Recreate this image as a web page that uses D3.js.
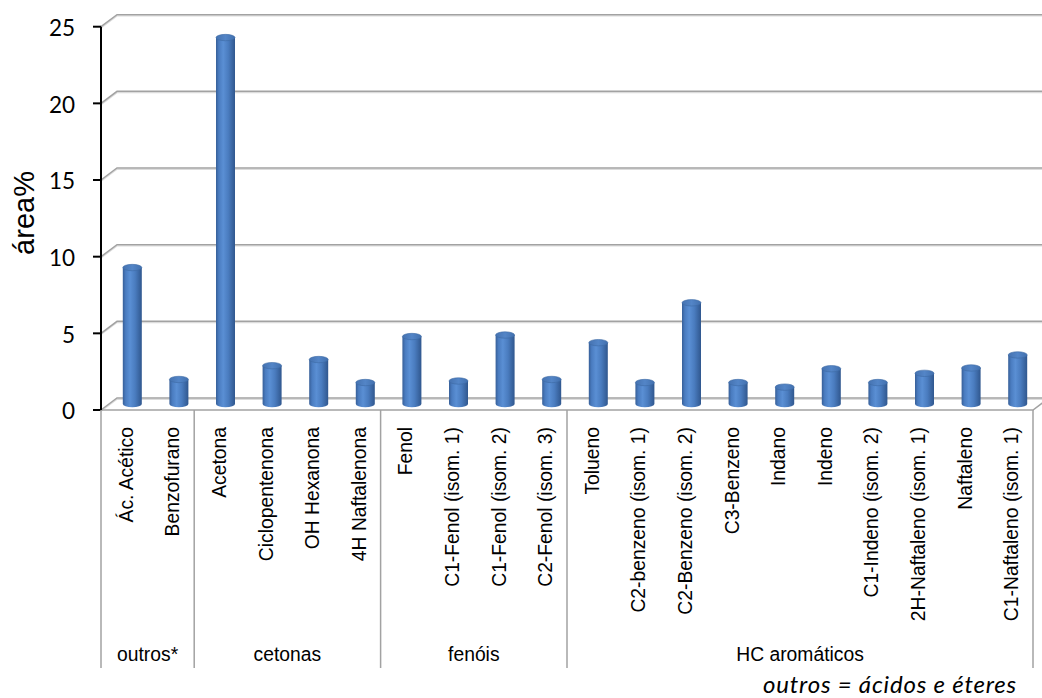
<!DOCTYPE html>
<html>
<head>
<meta charset="utf-8">
<script src="https://cdn.jsdelivr.net/npm/d3@7/dist/d3.min.js"></script>
<style>
  html, body { margin: 0; padding: 0; background: #fff; }
  svg { display: block; }
</style>
</head>
<body>
<svg id="chart" width="1042" height="698"></svg>
<script>
// Compound names along the category axis
const categories = [
  "Ác. Acético", "Benzofurano",
  "Acetona", "Ciclopentenona", "OH Hexanona", "4H Naftalenona",
  "Fenol", "C1-Fenol (isom. 1)", "C1-Fenol (isom. 2)", "C2-Fenol (isom. 3)",
  "Tolueno", "C2-benzeno (isom. 1)", "C2-Benzeno (isom. 2)", "C3-Benzeno",
  "Indano", "Indeno", "C1-Indeno (isom. 2)", "2H-Naftaleno (isom. 1)",
  "Naftaleno", "C1-Naftaleno (isom. 1)"
];
// Chemical class of each compound
const groupNames = ["outros*", "cetonas", "fenóis", "HC aromáticos"];
const groupSizes = [2, 4, 4, 10];
// Area percentage of each compound
const values = [
  8.9, 1.6,
  23.9, 2.5, 2.9, 1.4,
  4.4, 1.5, 4.5, 1.6,
  4.0, 1.4, 6.6, 1.4, 1.1, 2.3, 1.4, 2.0, 2.35, 3.2
];
const yTicks = [0, 5, 10, 15, 20, 25];
const yTitle = "área%";
const footnote = "outros = ácidos e éteres";

const svg = d3.select("#chart");

// Front plane of the 3-D plot box and its depth offset
const plotLeft = 101, plotRight = 1033, plotBottom = 410, plotTop = 26.7;
const depthX = 16, depthY = -12;
const labelBottom = 668;
const labelFont = "'Liberation Sans', Arial, sans-serif";
const narrow = 0.92; // condensed look of the axis lettering

const x = d3.scaleBand().domain(categories).range([plotLeft, plotRight]);
const y = d3.scaleLinear().domain([0, 25]).range([plotBottom, plotTop]);

const defs = svg.append("defs");
const grad = defs.append("linearGradient").attr("id", "cyl")
  .attr("x1", "0%").attr("x2", "100%").attr("y1", "0%").attr("y2", "0%");
[["0%", "#375f98"], ["15%", "#4a7cc0"], ["38%", "#5a8fd4"], ["65%", "#4a7cbf"], ["100%", "#30578e"]]
  .forEach(([o, c]) => grad.append("stop").attr("offset", o).attr("stop-color", c));
const topGrad = defs.append("linearGradient").attr("id", "cyltop")
  .attr("x1", "0%").attr("x2", "100%").attr("y1", "0%").attr("y2", "0%");
[["0%", "#4572b0"], ["50%", "#5385c7"], ["100%", "#4270ae"]]
  .forEach(([o, c]) => topGrad.append("stop").attr("offset", o).attr("stop-color", c));

// Back-wall gridlines with their side-wall diagonals
const grid = svg.append("g");
yTicks.forEach(t => {
  const yy = y(t);
  const pts = [[plotLeft, yy], [plotLeft + depthX, yy + depthY], [1050, yy + depthY]];
  grid.append("path")
    .attr("d", d3.line()(pts.map(p => [p[0], p[1] + 1.3])))
    .attr("fill", "none").attr("stroke", "#dcdcdc").attr("stroke-width", 1.2);
  grid.append("path")
    .attr("d", d3.line()(pts))
    .attr("fill", "none").attr("stroke", "#a2a2a2").attr("stroke-width", 1.5);
});

// Floor front edge and right edge
grid.append("path")
  .attr("d", d3.line()([[plotLeft, plotBottom], [plotRight, plotBottom], [plotRight + depthX, plotBottom + depthY]]))
  .attr("fill", "none").attr("stroke", "#a2a2a2").attr("stroke-width", 1.5);

// Cylinder bars, standing halfway into the depth of the box
const bw = 19, ry = 3.2;
const bars = svg.append("g");
categories.forEach((c, i) => {
  const cx = x(c) + x.bandwidth() / 2 + depthX / 2;
  const yb = y(0) + depthY / 2;
  const yt = y(values[i]) + depthY / 2;
  const g = bars.append("g");
  g.append("path")
    .attr("d", `M${cx - bw / 2},${yt} L${cx - bw / 2},${yb} A${bw / 2},${ry} 0 0 0 ${cx + bw / 2},${yb} L${cx + bw / 2},${yt} Z`)
    .attr("fill", "url(#cyl)");
  g.append("ellipse")
    .attr("cx", cx).attr("cy", yt).attr("rx", bw / 2).attr("ry", ry)
    .attr("fill", "url(#cyltop)").attr("stroke", "#3d69a4").attr("stroke-width", 0.6);
});

// Vertical value axis
const yAxis = svg.append("g");
yAxis.append("line")
  .attr("x1", plotLeft).attr("x2", plotLeft).attr("y1", y(25)).attr("y2", y(0))
  .attr("stroke", "#000").attr("stroke-width", 2);
yTicks.forEach(t => {
  yAxis.append("line")
    .attr("x1", plotLeft - 8).attr("x2", plotLeft).attr("y1", y(t)).attr("y2", y(t))
    .attr("stroke", "#000").attr("stroke-width", 2);
  yAxis.append("text")
    .attr("x", 75).attr("y", y(t)).attr("dy", "0.42em")
    .attr("text-anchor", "end")
    .style("font-family", "Lato, 'Open Sans', sans-serif").style("font-size", "22.5px")
    .attr("fill", "#000").text(t);
});
svg.append("text")
  .attr("transform", "translate(34,213) rotate(-90)")
  .attr("text-anchor", "middle")
  .style("font-family", labelFont).style("font-size", "29px")
  .attr("fill", "#000").text(yTitle);

// Category labels, rotated
const catLabels = svg.append("g")
  .style("font-family", labelFont).style("font-size", "21px");
categories.forEach(c => {
  const cx = x(c) + x.bandwidth() / 2 + 1;
  catLabels.append("text")
    .attr("transform", `translate(${cx},427) rotate(-90) scale(${narrow},1)`)
    .attr("dy", "0.36em")
    .attr("text-anchor", "end").attr("fill", "#000").text(c);
});

// Group separators and group names
const bounds = [0];
groupSizes.forEach(s => bounds.push(bounds[bounds.length - 1] + s));
const edgeX = k => k < categories.length ? x(categories[k]) : plotRight;
const groupLayer = svg.append("g");
bounds.forEach(k => {
  groupLayer.append("line")
    .attr("x1", edgeX(k)).attr("x2", edgeX(k)).attr("y1", plotBottom).attr("y2", labelBottom)
    .attr("stroke", "#a2a2a2").attr("stroke-width", 1.5);
});
groupNames.forEach((gname, gi) => {
  const x0 = edgeX(bounds[gi]), x1 = edgeX(bounds[gi + 1]);
  groupLayer.append("text")
    .attr("transform", `translate(${(x0 + x1) / 2},661) scale(${narrow},1)`)
    .attr("text-anchor", "middle")
    .style("font-family", labelFont).style("font-size", "21px")
    .attr("fill", "#000").text(gname);
});

// Footnote
svg.append("text")
  .attr("x", 1017).attr("y", 693)
  .attr("text-anchor", "end")
  .style("font-family", "Lato, 'Open Sans', sans-serif").style("font-size", "24px")
  .style("font-style", "italic").style("letter-spacing", "0.8px")
  .attr("fill", "#000").text(footnote);
</script>
</body>
</html>
